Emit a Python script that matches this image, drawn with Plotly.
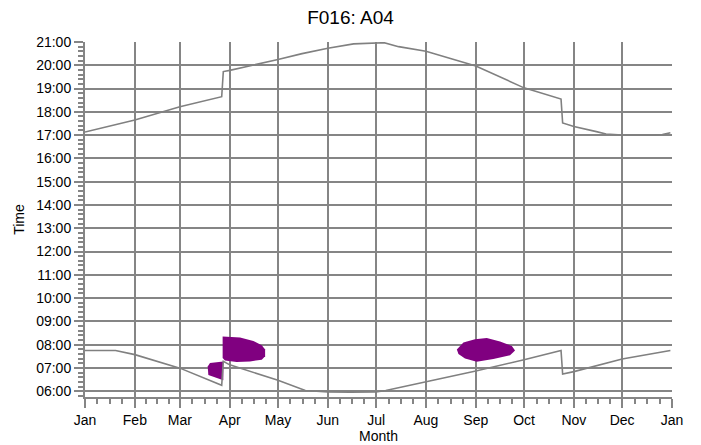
import pandas as pd
import plotly.graph_objects as go

# Sunset (upper curve), local clock time in hours
sunset_dates = ["2023-01-01", "2023-02-01", "2023-03-01", "2023-03-27", "2023-03-28",
                "2023-04-01", "2023-05-01", "2023-05-16", "2023-06-01", "2023-06-17",
                "2023-07-06", "2023-07-15", "2023-08-01", "2023-08-15", "2023-09-01",
                "2023-10-01", "2023-10-24", "2023-10-25", "2023-11-01", "2023-11-15",
                "2023-11-21", "2023-12-01", "2023-12-10", "2023-12-20", "2023-12-26",
                "2023-12-31"]
sunset_hours = [17.13, 17.65, 18.22, 18.65, 19.73,
                19.78, 20.25, 20.50, 20.73, 20.92,
                20.97, 20.80, 20.60, 20.32, 19.97,
                19.03, 18.55, 17.52, 17.37, 17.15,
                17.05, 17.00, 16.99, 17.00, 17.02,
                17.10]

# Sunrise (lower curve)
sunrise_dates = ["2023-01-01", "2023-01-20", "2023-02-01", "2023-03-01", "2023-03-27",
                 "2023-03-28", "2023-04-01", "2023-05-01", "2023-05-18", "2023-06-01",
                 "2023-06-15", "2023-07-01", "2023-07-07", "2023-08-01", "2023-09-01",
                 "2023-10-01", "2023-10-24", "2023-10-25", "2023-11-01", "2023-12-01",
                 "2023-12-31"]
sunrise_hours = [7.75, 7.75, 7.57, 6.99, 6.25,
                 7.28, 7.13, 6.47, 6.03, 5.97,
                 5.96, 5.97, 6.03, 6.40, 6.87,
                 7.35, 7.75, 6.74, 6.84, 7.38,
                 7.75]

# Glare periods (filled regions)
glare_a_dates = ["2023-03-18 07:00", "2023-03-19 17:00", "2023-03-28 00:00",
                 "2023-03-28 00:00", "2023-03-18 17:00"]
glare_a_hours = [7.06, 7.21, 7.28, 6.47, 6.69]

glare_b_dates = ["2023-03-27 14:00", "2023-04-07 10:00", "2023-04-15 17:00",
                 "2023-04-20 22:00", "2023-04-23 00:00", "2023-04-23 00:00",
                 "2023-04-20 22:00", "2023-04-13 14:00", "2023-04-05 07:00",
                 "2023-03-29 00:00", "2023-03-27 14:00"]
glare_b_hours = [8.35, 8.31, 8.16, 7.97, 7.79, 7.50, 7.35, 7.28, 7.25, 7.32, 7.43]

glare_c_dates = ["2023-08-20 05:00", "2023-08-24 07:00", "2023-08-31 12:00",
                 "2023-09-07 19:00", "2023-09-16 02:00", "2023-09-23 10:00",
                 "2023-09-25 10:00", "2023-09-22 07:00", "2023-09-11 22:00",
                 "2023-09-01 14:00", "2023-08-25 07:00", "2023-08-21 05:00"]
glare_c_hours = [7.79, 8.09, 8.23, 8.28, 8.13, 7.94, 7.75, 7.54, 7.38, 7.26, 7.40, 7.60]

hour_ticks = list(range(6, 22))
hour_labels = [f"{h:02d}:00" for h in hour_ticks]

GRID = "#858585"
LINE = "#808080"
PURPLE = "#800080"
FONT = "Arial, Liberation Sans, sans-serif"

fig = go.Figure()
for d, h in [(glare_a_dates, glare_a_hours), (glare_b_dates, glare_b_hours),
             (glare_c_dates, glare_c_hours)]:
    fig.add_trace(go.Scatter(x=d, y=h, mode="lines", fill="toself",
                             fillcolor=PURPLE, line=dict(width=0, color=PURPLE),
                             hoverinfo="skip", showlegend=False))

fig.add_trace(go.Scatter(x=sunset_dates, y=sunset_hours, mode="lines",
                         line=dict(color=LINE, width=1.6), showlegend=False))
fig.add_trace(go.Scatter(x=sunrise_dates, y=sunrise_hours, mode="lines",
                         line=dict(color=LINE, width=1.6), showlegend=False))

# quarter-month minor ticks
month_starts = pd.date_range("2023-01-01", "2024-01-01", freq="MS")
minor_x = []
for a, b in zip(month_starts[:-1], month_starts[1:]):
    for k in (1, 2, 3):
        minor_x.append(a + (b - a) * k / 4)

fig.update_layout(
    width=701, height=445,
    margin=dict(l=85, r=29, t=42, b=48, autoexpand=False),
    paper_bgcolor="white", plot_bgcolor="white",
    font=dict(family=FONT, size=14, color="black"),
    title=dict(text="F016: A04", x=0.5, xanchor="center", y=0.962, yanchor="middle",
               font=dict(size=19, family=FONT, color="black")),
    # no grid line along the open right-hand edge
    shapes=[dict(type="line", xref="paper", yref="paper", x0=1, x1=1, y0=0, y1=1,
                 line=dict(color="white", width=3), layer="between")],
)
fig.update_xaxes(
    type="date", range=["2023-01-01", "2024-01-01"], automargin=False,
    tick0="2023-01-01", dtick="M1", tickformat="%b",
    showgrid=True, gridcolor=GRID, gridwidth=2,
    ticks="outside", ticklen=9, tickwidth=2, tickcolor=GRID,
    showline=True, linecolor=GRID, linewidth=2,
    tickfont=dict(size=14),
    title=dict(text="Month", standoff=1, font=dict(size=14)),
    minor=dict(tickvals=minor_x, ticks="outside", ticklen=5, tickwidth=2,
               tickcolor=GRID, showgrid=False),
)
fig.update_yaxes(
    range=[5.75, 21.0], tickvals=hour_ticks, ticktext=hour_labels, automargin=False,
    showgrid=True, gridcolor=GRID, gridwidth=2, zeroline=False,
    ticks="outside", ticklen=9, tickwidth=2, tickcolor=GRID,
    showline=True, linecolor=GRID, linewidth=2,
    tickfont=dict(size=14),
    title=dict(text="Time", standoff=8, font=dict(size=14)),
    minor=dict(dtick=0.2, tick0=0, ticks="outside", ticklen=5, tickwidth=1.5,
               tickcolor=GRID, showgrid=False),
)

fig.write_html("out.html")
